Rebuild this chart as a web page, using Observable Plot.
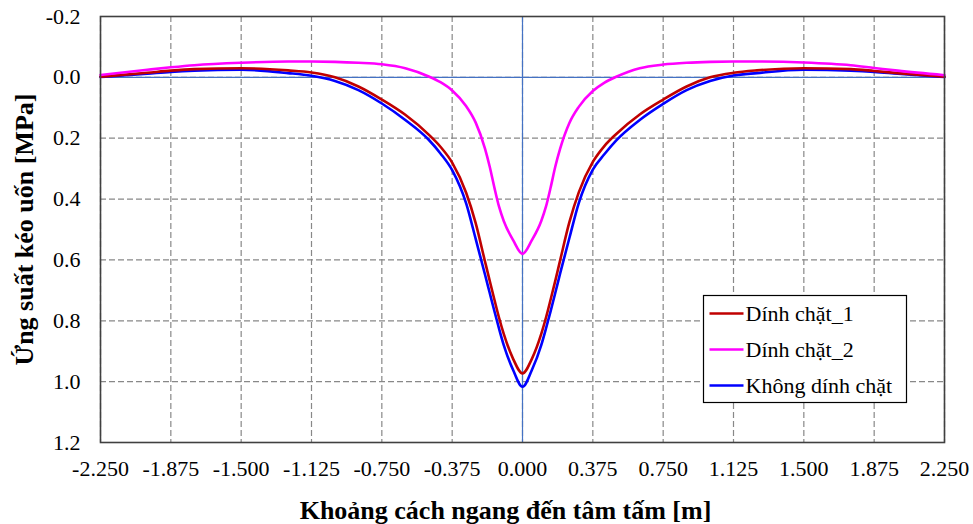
<!DOCTYPE html>
<html><head><meta charset="utf-8">
<script src="https://cdn.jsdelivr.net/npm/d3@7"></script>
<script src="https://cdn.jsdelivr.net/npm/@observablehq/plot@0.6"></script>
<style>body{margin:0;background:#fff}</style>
</head><body><div id="chart"></div>
<script>
const xValues = [-2.25, -2.0, -1.875, -1.75, -1.5, -1.25, -1.125, -1.0, -0.875, -0.75, -0.625, -0.5, -0.4375, -0.375, -0.3, -0.25, -0.2, -0.175, -0.15, -0.125, -0.1, -0.05, 0,
  0.05, 0.1, 0.125, 0.15, 0.175, 0.2, 0.25, 0.3, 0.375, 0.4375, 0.5, 0.625, 0.75, 0.875, 1.0, 1.125, 1.25, 1.5, 1.75, 1.875, 2.0, 2.25];
const dinhChat1 = [-0.002, -0.015, -0.022, -0.027, -0.030, -0.023, -0.016, 0.000, 0.030, 0.073, 0.123, 0.188, 0.228, 0.280, 0.380, 0.478, 0.605, 0.668, 0.730, 0.790, 0.843, 0.925, 0.973,
  0.925, 0.843, 0.790, 0.730, 0.668, 0.603, 0.476, 0.378, 0.278, 0.225, 0.186, 0.122, 0.073, 0.030, 0.000, -0.015, -0.023, -0.030, -0.027, -0.021, -0.014, -0.002];
const dinhChat2 = [-0.008, -0.025, -0.033, -0.040, -0.048, -0.052, -0.052, -0.051, -0.048, -0.043, -0.030, -0.003, 0.016, 0.043, 0.095, 0.148, 0.234, 0.293, 0.362, 0.425, 0.472, 0.535, 0.580,
  0.535, 0.472, 0.425, 0.362, 0.293, 0.236, 0.150, 0.097, 0.045, 0.017, -0.002, -0.030, -0.042, -0.048, -0.051, -0.052, -0.052, -0.049, -0.040, -0.031, -0.022, -0.007];
const khongDinhChat = [-0.001, -0.012, -0.018, -0.022, -0.025, -0.014, -0.005, 0.012, 0.042, 0.086, 0.140, 0.205, 0.250, 0.305, 0.415, 0.530, 0.648, 0.708, 0.768, 0.826, 0.880, 0.962, 1.017,
  0.962, 0.880, 0.826, 0.768, 0.708, 0.646, 0.528, 0.413, 0.303, 0.252, 0.207, 0.140, 0.087, 0.042, 0.012, -0.006, -0.014, -0.025, -0.022, -0.018, -0.012, -0.001];
const seriesNames = ["Dính chặt_1", "Dính chặt_2", "Không dính chặt"];
const seriesColors = ["#C00000", "#FF00FF", "#0000FF"];
const xTicks = [-2.25, -1.875, -1.5, -1.125, -0.75, -0.375, 0, 0.375, 0.75, 1.125, 1.5, 1.875, 2.25];
const yTicks = [-0.2, 0.0, 0.2, 0.4, 0.6, 0.8, 1.0, 1.2];
const xLabel = "Khoảng cách ngang đến tâm tấm [m]";
const yLabel = "Ứng suất kéo uốn [MPa]";

const seriesValues = [dinhChat1, dinhChat2, khongDinhChat];
const rows = [];
seriesValues.forEach((vals, s) => vals.forEach((v, i) => rows.push({x: xValues[i], v, series: seriesNames[s]})));
const drawOrder = [2, 0, 1];

const chart = Plot.plot({
  width: 973,
  height: 524,
  marginLeft: 100,
  marginRight: 29,
  marginTop: 16,
  marginBottom: 82,
  style: {fontFamily: "'Liberation Serif', 'Times New Roman', serif", fontSize: "22px", color: "#000", background: "#fff"},
  x: {domain: [-2.25, 2.25]},
  y: {domain: [-0.2, 1.2], reverse: true},
  color: {domain: seriesNames, range: seriesColors},
  marks: [
    Plot.gridX(xTicks, {stroke: "#888", strokeOpacity: 1, strokeWidth: 1.2, strokeDasharray: "6,3"}),
    Plot.gridY(yTicks, {stroke: "#888", strokeOpacity: 1, strokeWidth: 1.2, strokeDasharray: "6,3"}),
    Plot.ruleX([0], {stroke: "#4472C4", strokeWidth: 1.2}),
    Plot.ruleY([0], {stroke: "#4472C4", strokeWidth: 1.2}),
    ...drawOrder.map(s => Plot.line(rows.filter(d => d.series === seriesNames[s]), {
      x: "x", y: "v", stroke: seriesColors[s], strokeWidth: 2.6, curve: "monotone-x"
    })),
    Plot.frame({stroke: "#404040", strokeWidth: 1.6}),
    Plot.axisX(xTicks, {tickSize: 0, tickPadding: 18, tickFormat: d => d.toFixed(3), label: null, fontSize: 22}),
    Plot.axisY(yTicks, {tickSize: 0, tickPadding: 20, tickFormat: d => d.toFixed(1), label: null, fontSize: 22}),
    Plot.text([xLabel], {frameAnchor: "bottom", lineAnchor: "middle", textAnchor: "middle", dy: 68, dx: -17, fontSize: 26, fontWeight: "bold"}),
    Plot.text([yLabel], {frameAnchor: "left", lineAnchor: "middle", textAnchor: "middle", dx: -76, rotate: -90, fontSize: 26, fontWeight: "bold"})
  ]
});
document.getElementById("chart").appendChild(chart);

// Legend box inside the plot
const svg = d3.select(chart);
const lg = svg.append("g").attr("transform", "translate(703.5,295.5)").attr("text-anchor", "start");
lg.append("rect").attr("width", 203).attr("height", 107).attr("fill", "#fff").attr("stroke", "#000").attr("stroke-width", 1.2);
seriesNames.forEach((name, i) => {
  const y = 18 + i * 36;
  lg.append("line").attr("x1", 6).attr("x2", 40).attr("y1", y).attr("y2", y)
    .attr("stroke", seriesColors[i]).attr("stroke-width", 2.6);
  lg.append("text").attr("x", 42).attr("y", y).attr("dy", "0.35em").attr("text-anchor", "start")
    .attr("font-size", 22).attr("fill", "#000").text(name);
});
</script>
</body></html>
